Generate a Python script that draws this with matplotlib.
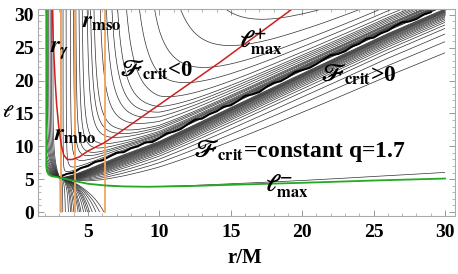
import numpy as np
import matplotlib
matplotlib.use('Agg')
import matplotlib.pyplot as plt

# ---------------- data ----------------
# F_crit = 0 line (thick black)
zero_r = [3.0, 4.0, 5.0, 7.0, 10.0, 12.35, 19.5, 26.0, 30.7]
zero_l = [5.3, 6.1, 7.0, 8.8, 11.2, 13.6, 21.0, 27.6, 32.0]
# small jags of the drawn zero line (offsets from the smooth line, read by eye)
jag_r = [3.0, 3.5, 4.0, 4.5, 5.0, 5.5, 6.0, 6.5, 7.0, 7.5, 8.0, 8.5, 9.0, 9.5, 10.0,
         10.5, 11.0, 11.5, 12.0, 12.5, 13.0, 13.5, 14.0, 14.5, 15.0, 15.5, 16.0, 16.5,
         17.0, 17.5, 18.0, 18.5, 19.0, 19.5, 20.0, 20.5, 21.0, 21.5, 22.0, 22.5, 23.0,
         23.5, 24.0, 24.5, 25.0, 25.5, 26.0, 26.5, 27.0, 27.5, 28.0, 28.5, 29.0]
jag_dl = [0.0, 0.1, -0.1, 0.15, 0.0, 0.2, -0.05, 0.1, 0.25, -0.1, 0.1, 0.0, 0.2, -0.15,
          0.05, 0.25, 0.0, -0.1, 0.15, 0.3, -0.05, 0.1, 0.0, 0.2, -0.1, 0.05, 0.3, 0.0,
          -0.15, 0.1, 0.2, -0.05, 0.05, 0.3, 0.1, -0.1, 0.0, 0.2, 0.35, 0.0, -0.1, 0.15,
          0.05, 0.3, -0.05, 0.1, 0.0, 0.25, 0.35, 0.0, -0.1, 0.1, 0.0]
# lower base curve of the contour fan (starts at the cusp)
base_r = [3.0, 3.5, 4.1, 5.0, 6.2, 7.5, 9.2, 12.0, 15.0, 20.0, 25.0, 30.7]
base_l = [5.3, 5.0, 4.7, 4.3, 4.0, 3.85, 3.8, 3.9, 4.1, 4.4, 4.75, 5.1]
# contour levels
neg_levels = [-11.0, -9.0, -7.5, -6.3, -5.3, -4.6, -3.96, -3.5, -3.2, -2.9, -2.56, -2.2,
              -2.0, -1.8, -1.5, -1.3, -1.1, -0.95, -0.74, -0.46, -0.25, -0.1]
arc_levels = [-6.2, -5.3, -4.6, -3.96, -3.5, -3.2, -2.9, -2.56, -2.2, -2.0,
              -1.8, -1.5, -1.3, -1.1, -0.95, -0.74, -0.46, -0.25, -0.1, -0.05]
pos_levels = [0.45, 0.55, 0.65, 0.75, 0.85, 0.95, 1.05, 1.2, 1.35, 1.5, 1.7, 1.9,
              2.15, 2.45, 2.8, 3.3, 4.0, 5.2, 7.0, 10.0, 700.0]

# l_max^+ (red)
red_r = [2.5, 2.57, 2.7, 2.8, 2.95, 3.13, 3.3, 3.55, 3.9, 4.4, 5.0, 6.1, 7.0, 8.65, 14.24, 19.3]
red_l = [30.9, 26.0, 20.0, 16.5, 13.0, 10.2, 8.7, 8.0, 8.0, 8.4, 9.3, 10.5, 11.8, 14.3, 22.8, 30.9]
# l_max^- (green)
green_r = [2.08, 2.08, 2.12, 2.25, 2.45, 2.9, 3.3, 4.1, 5.0, 6.2, 7.5, 9.2, 12.0, 15.0, 20.0, 25.0, 30.0]
green_l = [30.9, 7.0, 6.2, 5.7, 5.45, 5.3, 5.1, 4.7, 4.3, 4.05, 3.9, 3.85, 3.95, 4.15, 4.45, 4.8, 5.1]
# orange vertical radii (r_gamma, r_mbo, r_mso)
orange_r = [3.13, 4.11, 6.17]

# ---------------- style ----------------
plt.rcParams['mathtext.fontset'] = 'custom'
plt.rcParams['mathtext.rm'] = 'STIXGeneral:bold'
plt.rcParams['mathtext.it'] = 'STIXGeneral:italic:bold'
plt.rcParams['mathtext.bf'] = 'STIXGeneral:bold'
plt.rcParams['mathtext.fallback'] = 'stix'

fig = plt.figure(figsize=(4.58, 2.74), dpi=100)
ax = fig.add_axes([38/458, 1-216/274, (455-38)/458, (216-9)/274])

# ---------------- field ----------------
r = np.linspace(2.0, 30.0, 1400)
l = np.linspace(0.0, 31.0, 1300)
R, L = np.meshgrid(r, l)
P = np.interp(R, zero_r, zero_l)
B = np.interp(R, base_r, base_l)
with np.errstate(divide='ignore', invalid='ignore'):
    U = (L - P) / (L - B)
    F_right = -(R - 3.0) * U
    F_up = -(R - 3.0) * np.abs(U) ** 0.75
    F_right = np.where(L > P, F_up, F_right)
    h = 1.0 - np.exp(-(L - 5.3) / 2.5)
    F_left = (3.0 - R) / h
gl_left = np.interp(R, [2.08, 2.12, 2.25, 2.45, 2.9, 3.0], [7.0, 6.2, 5.7, 5.45, 5.3, 5.3])

F1 = np.where(R >= 3.0, np.where(L > B, F_right, np.nan),
              np.where((L > gl_left) & (L > 5.3), F_left, np.nan))
F1[R < 2.08] = np.nan
F2 = np.where((R >= 3.0) & (L < B), F_right, np.nan)

cc = '#303030'
ax.contour(R, L, np.ma.masked_invalid(F1), levels=sorted(neg_levels + pos_levels),
           colors=cc, linewidths=0.5, linestyles='solid')
ax.contour(R, L, np.ma.masked_invalid(F2), levels=arc_levels,
           colors=cc, linewidths=0.5, linestyles='solid')

jag_l = np.interp(jag_r, zero_r, zero_l) + np.array(jag_dl)
ax.plot(jag_r, jag_l, color='black', lw=1.4)

for xo in orange_r:
    ax.plot([xo, xo], [0, 31], color='#f5a55a', lw=1.3)
ax.plot(red_r, red_l, color='#cc2020', lw=1.1)
ax.plot(green_r, green_l, color='#22aa22', lw=1.3)

# ---------------- axes ----------------
ax.set_xlim(1.5, 30.7)
ax.set_ylim(-0.6, 30.9)
ax.set_xticks([5, 10, 15, 20, 25, 30])
ax.set_yticks([0, 5, 10, 15, 20, 25, 30])
ax.set_xticks(np.arange(2, 31, 1), minor=True)
ax.set_yticks(np.arange(0, 31, 1), minor=True)
ax.tick_params(which='both', direction='in', top=True, right=True, color='#999999')
ax.tick_params(which='major', length=4, width=0.7, pad=3)
ax.tick_params(which='minor', length=2, width=0.5)
for s in ax.spines.values():
    s.set_color('#aaaaaa')
    s.set_linewidth(0.8)
tf = dict(family='Liberation Serif', weight='bold', size=14)
ax.set_xticklabels(['5', '10', '15', '20', '25', '30'], **tf)
ax.set_yticklabels(['0', '5', '10', '15', '20', '25', '30'], **tf)
ax.tick_params(axis='x', pad=6)

fig.text(245/458, 1-258/274, 'r/M', ha='center', va='center',
         family='Liberation Serif', weight='bold', size=15)
fig.text(8/458, 1-113/274, r'$ℓ$', ha='center', va='center',
         family=['STIXGeneral', 'DejaVu Sans'], size=12)

lf = dict(family='Liberation Serif', weight='bold', size=17, color='black', zorder=5)
ax.text(4.58, 28.1, r'$r_{\mathrm{mso}}$', ha='left', va='baseline', **lf)
ax.text(2.34, 24.2, r'$r_{\gamma}$', ha='left', va='baseline', **lf)
ax.text(2.62, 10.9, r'$r_{\mathrm{mbo}}$', ha='left', va='baseline', **lf)
ax.text(15.6, 24.95, r'$ℓ^{+}_{\mathrm{max}}$', ha='left', va='baseline', **lf)
ax.text(17.4, 3.1, r'$ℓ^{-}_{\mathrm{max}}$', ha='left', va='baseline', **lf)
ax.text(7.2, 20.6, r'$ℱ_{\mathrm{crit}}$<0', ha='left', va='baseline',
        **{**lf, 'size': 16.5})
ax.text(21.25, 19.8, r'$ℱ_{\mathrm{crit}}$>0', ha='left', va='baseline', **lf)
ax.text(12.35, 8.45, r'$ℱ_{\mathrm{crit}}$=constant q=1.7', ha='left', va='baseline', **lf)

fig.savefig('out.png', dpi=100)
